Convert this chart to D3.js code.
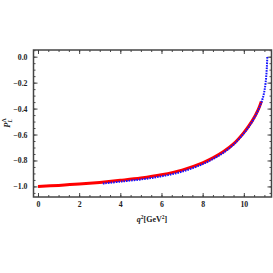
<!DOCTYPE html>
<html>
<head>
<meta charset="utf-8">
<script src="https://cdn.jsdelivr.net/npm/d3@7"></script>
<style>
  body { margin: 0; background: #fff; }
  text { font-family: "Liberation Serif", "DejaVu Serif", serif; font-weight: bold; }
</style>
</head>
<body>
<div id="chart-area"></div>
<script>
// values
const redQ = [0, 1, 2, 3, 4, 5, 6, 7, 8, 8.5, 9, 9.5, 10, 10.4, 10.7, 10.85]
const redP = [-1.0, -0.992, -0.982, -0.969, -0.953, -0.935, -0.91, -0.874, -0.818, -0.78, -0.733, -0.672, -0.585, -0.497, -0.408, -0.345]
const blueQ = [3.15, 4, 5, 6, 7, 8, 8.5, 9, 9.5, 10, 10.4, 10.7, 10.9, 11.0, 11.07, 11.12, 11.14]
const blueP = [-0.978, -0.963, -0.946, -0.922, -0.886, -0.828, -0.789, -0.741, -0.678, -0.592, -0.502, -0.412, -0.331, -0.265, -0.185, -0.08, 0.0]
const xTicks = [0, 2, 4, 6, 8, 10]
const yTicks = [0.0, -0.2, -0.4, -0.6, -0.8, -1.0]

const W = 273, H = 273
const svg = d3.select("#chart-area").append("svg")
    .attr("width", W)
    .attr("height", H)

const x = d3.scaleLinear().domain([-0.218, 11.345]).range([33.5, 271.5])
const y = d3.scaleLinear().domain([-1.0815, 0.0515]).range([197, 50])

const fmt = d => String(d)
const fmtY = d => d3.format(".1f")(d).replace("-", "\u2212")

// minor ticks (every 0.5 on x, every 0.05 on y)
const xMinor = d3.range(0, 11.01, 0.5)
const yMinor = d3.range(-1.05, 0.051, 0.05)

function styleAxis(g) {
  g.select(".domain").remove()
  g.selectAll("line").attr("stroke", "#333").attr("stroke-width", 0.9)
  g.selectAll("text").attr("font-size", 7.8).attr("fill", "#222")
}

// bottom
svg.append("g").attr("transform", `translate(0,${y.range()[0]})`)
  .call(d3.axisBottom(x).tickValues(xMinor).tickSize(-2).tickFormat(""))
  .call(styleAxis)
svg.append("g").attr("transform", `translate(0,${y.range()[0]})`)
  .call(d3.axisBottom(x).tickValues(xTicks).tickSize(-4).tickPadding(4).tickFormat(fmt))
  .call(styleAxis)
// top
svg.append("g").attr("transform", `translate(0,${y.range()[1]})`)
  .call(d3.axisTop(x).tickValues(xMinor).tickSize(-2).tickFormat(""))
  .call(styleAxis)
svg.append("g").attr("transform", `translate(0,${y.range()[1]})`)
  .call(d3.axisTop(x).tickValues(xTicks).tickSize(-4).tickFormat(""))
  .call(styleAxis)
// left
svg.append("g").attr("transform", `translate(${x.range()[0]},0)`)
  .call(d3.axisLeft(y).tickValues(yMinor).tickSize(-2).tickFormat(""))
  .call(styleAxis)
svg.append("g").attr("transform", `translate(${x.range()[0]},0)`)
  .call(d3.axisLeft(y).tickValues(yTicks).tickSize(-4).tickPadding(6).tickFormat(fmtY))
  .call(styleAxis)
// right
svg.append("g").attr("transform", `translate(${x.range()[1]},0)`)
  .call(d3.axisRight(y).tickValues(yMinor).tickSize(-2).tickFormat(""))
  .call(styleAxis)
svg.append("g").attr("transform", `translate(${x.range()[1]},0)`)
  .call(d3.axisRight(y).tickValues(yTicks).tickSize(-4).tickFormat(""))
  .call(styleAxis)

// frame
svg.append("rect")
    .attr("x", x.range()[0])
    .attr("y", y.range()[1])
    .attr("width", x.range()[1] - x.range()[0])
    .attr("height", y.range()[0] - y.range()[1])
    .attr("fill", "none")
    .attr("stroke", "#444")
    .attr("stroke-width", 1.5)

const line = d3.line().x(d => x(d[0])).y(d => y(d[1])).curve(d3.curveCatmullRom.alpha(0.5))

svg.append("path")
    .datum(redQ.map((q, i) => [q, redP[i]]))
    .attr("d", line)
    .attr("fill", "none")
    .attr("stroke", "#ff0000")
    .attr("stroke-width", 3)

svg.append("path")
    .datum(blueQ.map((q, i) => [q, blueP[i]]))
    .attr("d", line)
    .attr("fill", "none")
    .attr("stroke", "#1414ff")
    .attr("stroke-width", 2)
    .attr("stroke-dasharray", "1.6,1")

// axis labels
const xl = svg.append("text")
    .attr("x", 152)
    .attr("y", 222)
    .attr("text-anchor", "middle")
    .attr("font-size", 8)
    .attr("fill", "#222")
xl.append("tspan").attr("font-style", "italic").text("q")
xl.append("tspan").attr("font-size", 5.5).attr("dy", -3).text("2")
xl.append("tspan").attr("dy", 3).text("[GeV")
xl.append("tspan").attr("font-size", 5.5).attr("dy", -3).text("2")
xl.append("tspan").attr("dy", 3).text("]")

const yl = svg.append("text")
    .attr("transform", "translate(10,123) rotate(-90)")
    .attr("text-anchor", "middle")
    .attr("font-size", 8.5)
    .attr("fill", "#222")
yl.append("tspan").attr("font-style", "italic").text("P")
yl.append("tspan").attr("font-size", 5.5).attr("dy", 2).attr("font-style", "italic").text("L")
yl.append("tspan").attr("font-size", 5.5).attr("dx", -3).attr("dy", -6).text("Λ")
</script>
</body>
</html>
